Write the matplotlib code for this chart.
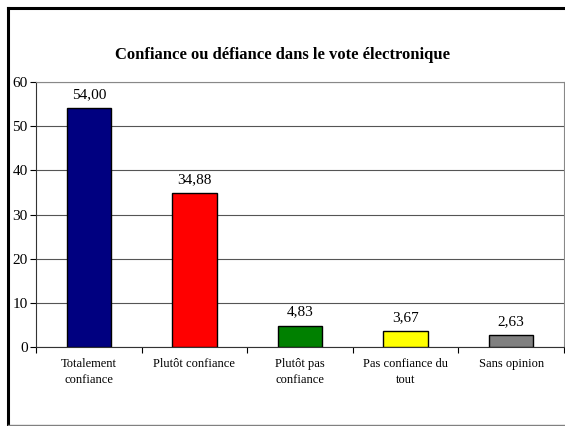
import matplotlib.pyplot as plt
from matplotlib.lines import Line2D

categories = ['Totalement\nconfiance', 'Plutôt confiance', 'Plutôt pas\nconfiance',
              'Pas confiance du\ntout', 'Sans opinion']
values = [54.00, 34.88, 4.83, 3.67, 2.63]
colors = ['#000080', '#FF0000', '#008000', '#FFFF00', '#808080']
labels = ['54,00', '34,88', '4,83', '3,67', '2,63']

plt.rcParams['font.family'] = ['Liberation Serif', 'DejaVu Serif']

W, H = 565, 426
fig = plt.figure(figsize=(W / 100, H / 100), dpi=100)
ax = fig.add_axes([36 / W, 1 - 347 / H, (564 - 36) / W, (347 - 82) / H])

x = range(len(values))
ax.bar(x, values, width=0.42, color=colors, edgecolor='black', linewidth=1, zorder=3)
for xi, v, lab in zip(x, values, labels):
    ax.text(xi, v + 1.6, lab, ha='center', va='bottom', fontsize=11)

ax.set_xlim(-0.5, len(values) - 0.5)
ax.set_ylim(0, 60)
ax.set_yticks(range(0, 61, 10))
ax.tick_params(axis='y', labelsize=11, length=4, direction='out', width=0.8, pad=2)
ax.yaxis.grid(True, color='#555555', linewidth=0.8, zorder=0)

ax.set_xticks([i + 0.5 for i in range(-1, len(values))])
ax.set_xticklabels([])
ax.tick_params(axis='x', length=4, direction='out', width=0.8)
for xi, c in zip(x, categories):
    ax.text(xi, -2.4, c, ha='center', va='top', fontsize=9, linespacing=1.45)

for side in ['top', 'right']:
    ax.spines[side].set_color('#888888')
ax.spines['left'].set_color('#333333')
ax.spines['bottom'].set_color('#333333')

fig.text(0.5, 1 - 55 / H, 'Confiance ou défiance dans le vote électronique',
         ha='center', va='center', fontsize=12, fontweight='bold')

# chart frame
fig.add_artist(Line2D([7.5 / W, 7.5 / W], [1 - 7.5 / H, 1 - 424.5 / H], color='black', lw=2.2))
fig.add_artist(Line2D([7.5 / W, 1], [1 - 7.5 / H, 1 - 7.5 / H], color='black', lw=2.2))
fig.add_artist(Line2D([7.5 / W, 1], [1 - 424.5 / H, 1 - 424.5 / H], color='#808080', lw=1))

fig.savefig('out.png', dpi=100)
